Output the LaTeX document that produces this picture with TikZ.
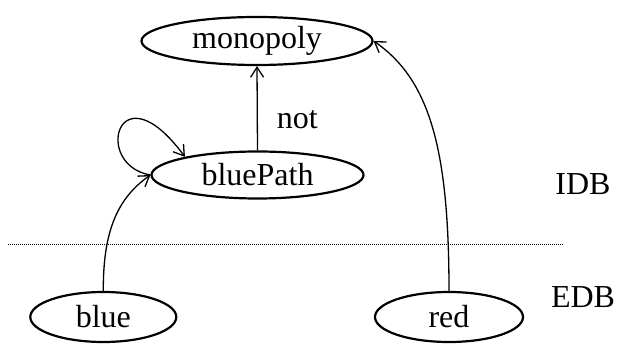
\documentclass[tikz,border=0pt]{standalone}
\usepackage{fontspec}
\setmainfont{Liberation Serif}
\usetikzlibrary{shapes.geometric,arrows.meta}
\begin{document}
\begin{tikzpicture}[x=1pt,y=-1pt,
  pred/.style={ellipse,draw,line width=2.2pt,inner sep=0pt},
  lbl/.style={inner sep=0pt},
  dep/.style={line width=1.3pt,-{Straight Barb[length=10pt,width=13pt,line width=1.3pt]}},
  every node/.style={font=\fontsize{32}{38}\selectfont}]
\useasboundingbox (0,0) rectangle (621,344);

% predicates
\node[pred,minimum width=231pt,minimum height=48pt] (monopoly) at (257,41) {monopoly};
\node[pred,minimum width=212pt,minimum height=47pt] (bluePath) at (257.5,175) {bluePath};
\node[pred,minimum width=146pt,minimum height=50pt] (blue) at (103.3,317) {blue};
\node[pred,minimum width=148pt,minimum height=50pt] (red) at (449,317) {red};

% layer labels and separator
\node[lbl] (idb) at (583,184) {IDB};
\node[lbl] (edb) at (583,297) {EDB};
\coordinate (sepL) at (8,244.5);
\coordinate (sepR) at (564,244.5);
\draw[line width=1pt,dash pattern=on 1pt off 1pt] (sepL) -- (sepR);

% dependencies
\draw[dep] (bluePath.north) -- node[lbl,right=19pt,pos=0.36] (notlbl) {not} (monopoly.south);
\draw[dep] (blue.north) .. controls (103,230) and (118,198) .. (bluePath.west);
\draw[dep] (red.north) .. controls (449,150) and (430,80) .. (monopoly.east);
\draw[dep] (bluePath.west) .. controls (92,165) and (118,66) .. (bluePath.166);
\end{tikzpicture}
\end{document}
